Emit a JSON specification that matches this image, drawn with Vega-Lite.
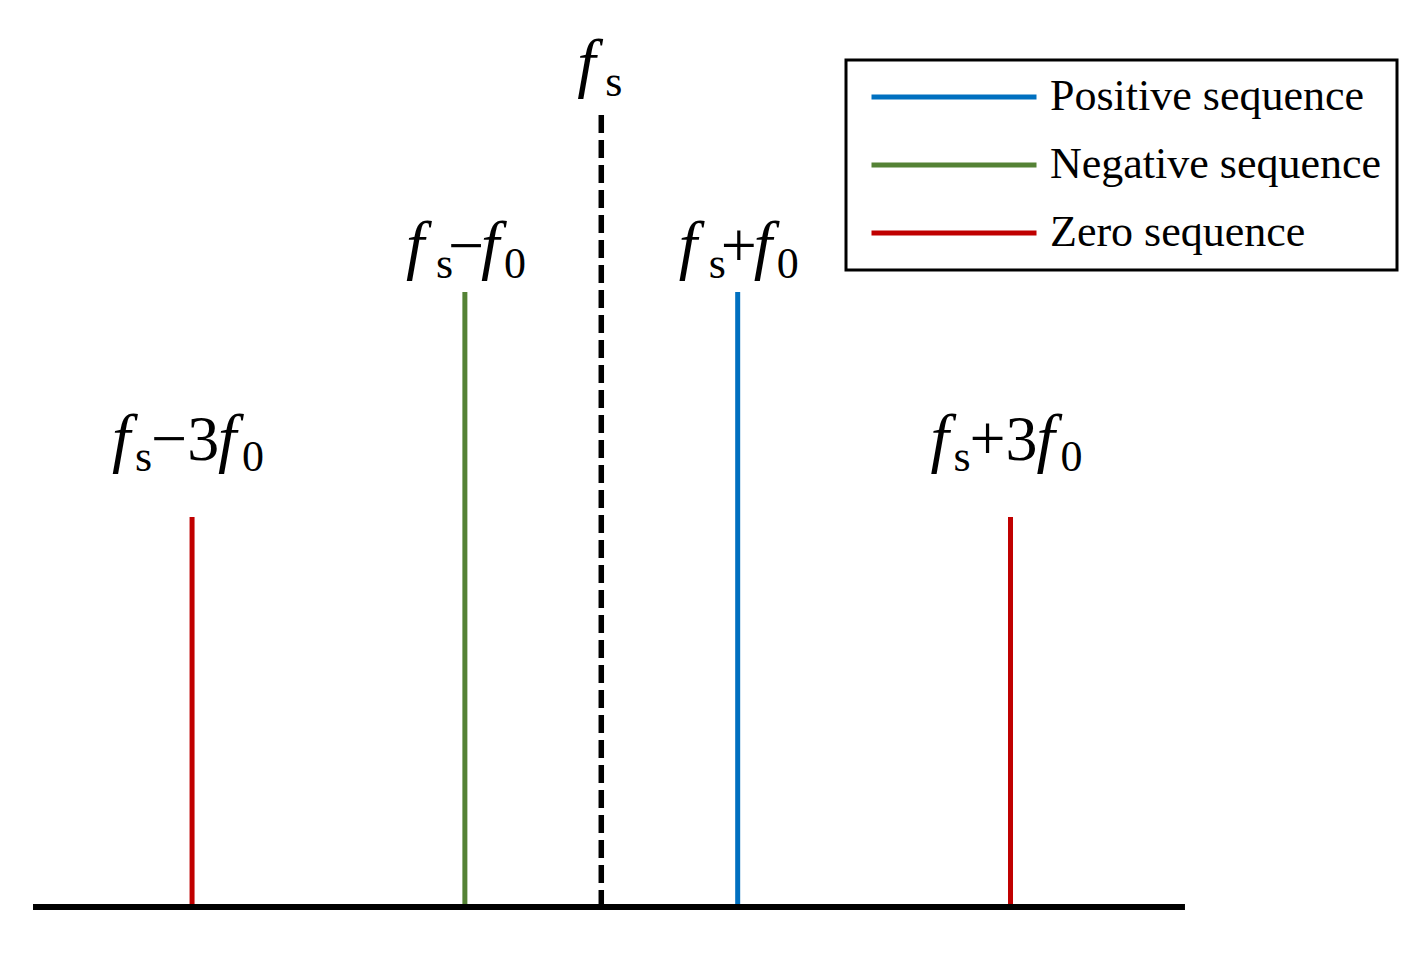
{
  "$schema": "https://vega.github.io/schema/vega-lite/v6.json",
  "width": 1423,
  "height": 957,
  "autosize": {"type": "fit", "contains": "padding"},
  "padding": 0,
  "background": "white",
  "config": {
    "font": "Liberation Serif",
    "view": {"stroke": null},
    "text": {"font": "Liberation Serif"},
    "legend": {
      "orient": "none",
      "legendX": 846,
      "legendY": 60,
      "strokeColor": "black",
      "strokeWidth": 3,
      "padding": 15,
      "symbolType": "stroke",
      "symbolSize": 27225,
      "symbolStrokeWidth": 5,
      "symbolOffset": 8,
      "labelFont": "Liberation Serif",
      "labelFontSize": 44,
      "labelColor": "black",
      "labelOffset": 11,
      "labelLimit": 600,
      "rowPadding": 24,
      "clipHeight": 44
    }
  },
  "datasets": {
    "lines": [
      {"freq": -3, "amp": 0.634, "seq": "Zero sequence"},
      {"freq": -1, "amp": 1.0, "seq": "Negative sequence"},
      {"freq": 1, "amp": 1.0, "seq": "Positive sequence"},
      {"freq": 3, "amp": 0.634, "seq": "Zero sequence"}
    ],
    "carrier": [{"freq": 0, "amp": 1.288}],
    "axisline": [{"start": -4.166, "end": 4.279, "amp": 0}],
    "labels": [
      {"freq": -3, "amp": 0.727, "group": "k3", "op": "−3"},
      {"freq": 3, "amp": 0.727, "group": "k3", "op": "+3"},
      {"freq": -1, "amp": 1.041, "group": "k1", "op": "−"},
      {"freq": 1, "amp": 1.041, "group": "k1", "op": "+"},
      {"freq": 0, "amp": 1.3366, "group": "s", "op": ""}
    ]
  },
  "encoding": {
    "x": {"field": "freq", "type": "quantitative", "scale": {"domain": [-4.408, 6.024], "nice": false, "zero": false}, "axis": null},
    "y": {"field": "amp", "type": "quantitative", "scale": {"domain": [-0.0813, 1.4748], "nice": false, "zero": false}, "axis": null}
  },
  "layer": [
    {
      "data": {"name": "carrier"},
      "mark": {"type": "rule", "color": "black", "strokeWidth": 5.5, "strokeDash": [18, 7]},
      "encoding": {
        "y2": {"datum": 0}
      }
    },
    {
      "data": {"name": "lines"},
      "mark": {"type": "rule", "strokeWidth": 5},
      "encoding": {
        "y2": {"datum": 0},
        "color": {
          "field": "seq",
          "type": "nominal",
          "scale": {"domain": ["Positive sequence", "Negative sequence", "Zero sequence"], "range": ["#0070C0", "#548235", "#C00000"]},
          "legend": {"title": null}
        }
      }
    },
    {
      "data": {"name": "axisline"},
      "mark": {"type": "rule", "color": "black", "strokeWidth": 6},
      "encoding": {
        "x": {"field": "start", "type": "quantitative"},
        "x2": {"field": "end"}
      }
    },
    {
      "data": {"name": "labels"},
      "transform": [{"filter": "datum.group == 'k3'"}],
      "mark": {"type": "text", "font": "Liberation Serif", "color": "black", "align": "left", "baseline": "alphabetic", "text": "f", "fontStyle": "italic", "fontSize": 66, "dx": -80}
    },
    {
      "data": {"name": "labels"},
      "transform": [{"filter": "datum.group == 'k3'"}],
      "mark": {"type": "text", "font": "Liberation Serif", "color": "black", "align": "left", "baseline": "alphabetic", "text": "s", "fontSize": 44, "dx": -57, "dy": 11}
    },
    {
      "data": {"name": "labels"},
      "transform": [{"filter": "datum.group == 'k3'"}],
      "mark": {"type": "text", "font": "Liberation Serif", "color": "black", "align": "left", "baseline": "alphabetic", "fontSize": 64, "dx": -41},
      "encoding": {"text": {"field": "op"}}
    },
    {
      "data": {"name": "labels"},
      "transform": [{"filter": "datum.group == 'k3'"}],
      "mark": {"type": "text", "font": "Liberation Serif", "color": "black", "align": "left", "baseline": "alphabetic", "text": "f", "fontStyle": "italic", "fontSize": 66, "dx": 26}
    },
    {
      "data": {"name": "labels"},
      "transform": [{"filter": "datum.group == 'k3'"}],
      "mark": {"type": "text", "font": "Liberation Serif", "color": "black", "align": "left", "baseline": "alphabetic", "text": "0", "fontSize": 44, "dx": 50, "dy": 11}
    },
    {
      "data": {"name": "labels"},
      "transform": [{"filter": "datum.group == 'k1'"}],
      "mark": {"type": "text", "font": "Liberation Serif", "color": "black", "align": "left", "baseline": "alphabetic", "text": "f", "fontStyle": "italic", "fontSize": 66, "dx": -59}
    },
    {
      "data": {"name": "labels"},
      "transform": [{"filter": "datum.group == 'k1'"}],
      "mark": {"type": "text", "font": "Liberation Serif", "color": "black", "align": "left", "baseline": "alphabetic", "text": "s", "fontSize": 44, "dx": -29, "dy": 11}
    },
    {
      "data": {"name": "labels"},
      "transform": [{"filter": "datum.group == 'k1'"}],
      "mark": {"type": "text", "font": "Liberation Serif", "color": "black", "align": "left", "baseline": "alphabetic", "fontSize": 64, "dx": -17},
      "encoding": {"text": {"field": "op"}}
    },
    {
      "data": {"name": "labels"},
      "transform": [{"filter": "datum.group == 'k1'"}],
      "mark": {"type": "text", "font": "Liberation Serif", "color": "black", "align": "left", "baseline": "alphabetic", "text": "f", "fontStyle": "italic", "fontSize": 66, "dx": 16}
    },
    {
      "data": {"name": "labels"},
      "transform": [{"filter": "datum.group == 'k1'"}],
      "mark": {"type": "text", "font": "Liberation Serif", "color": "black", "align": "left", "baseline": "alphabetic", "text": "0", "fontSize": 44, "dx": 39, "dy": 11}
    },
    {
      "data": {"name": "labels"},
      "transform": [{"filter": "datum.group == 's'"}],
      "mark": {"type": "text", "font": "Liberation Serif", "color": "black", "align": "left", "baseline": "alphabetic", "text": "f", "fontStyle": "italic", "fontSize": 66, "dx": -24}
    },
    {
      "data": {"name": "labels"},
      "transform": [{"filter": "datum.group == 's'"}],
      "mark": {"type": "text", "font": "Liberation Serif", "color": "black", "align": "left", "baseline": "alphabetic", "text": "s", "fontSize": 44, "dx": 4, "dy": 11}
    }
  ]
}
